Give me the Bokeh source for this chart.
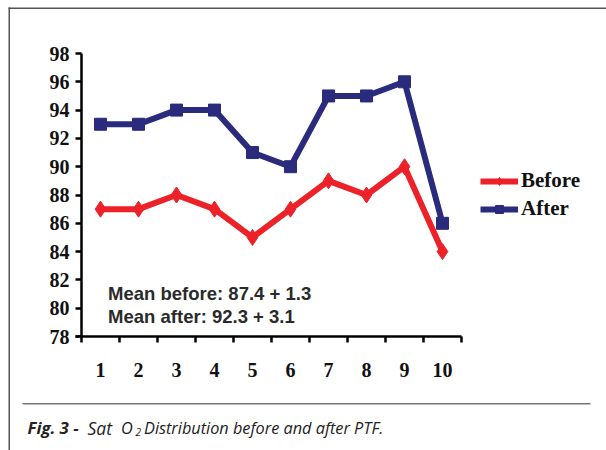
from bokeh.plotting import figure
from bokeh.models import (Range1d, FixedTicker, Legend, LegendItem, Label, BoxAnnotation)
from bokeh.embed import file_html
from bokeh.resources import INLINE

# ---- data ----
samples = [1, 2, 3, 4, 5, 6, 7, 8, 9, 10]
before = [87, 87, 88, 87, 85, 87, 89, 88, 90, 84]
after = [93, 93, 94, 94, 91, 90, 95, 95, 96, 86]
y_ticks = [78, 80, 82, 84, 86, 88, 90, 92, 94, 96, 98]
mean_lines = ["Mean before: 87.4 + 1.3", "Mean after: 92.3 + 3.1"]
caption_parts = ["Fig. 3 -", "Sat", "O", "2", "Distribution before and after PTF."]

RED = "#ED2128"
NAVY = "#2A2B7C"

W, H = 606, 450
# pixel layout of the plotting area inside the canvas
FL, FR, FT, FB = 81, 461, 53, 336
xpx = (FR - FL) / 10.0
ypx = (FB - FT) / 20.0
x_start = 0.5 - FL / xpx
x_end = 10.5 + (W - FR) / xpx
y_start = 78 - (H - FB) / ypx
y_end = 98 + FT / ypx

p = figure(width=W, height=H, output_backend="svg", toolbar_location=None,
           x_range=Range1d(x_start, x_end), y_range=Range1d(y_start, y_end),
           min_border=0)
p.grid.visible = False
p.outline_line_color = None
p.background_fill_color = "white"
p.border_fill_color = "white"

p.xaxis.fixed_location = 78
p.yaxis.fixed_location = 0.5
p.xaxis.bounds = (0.5 - 6 / xpx, 10.5)
p.yaxis.bounds = (78, 98)

for axes in (p.xaxis, p.yaxis):
    axes.axis_line_width = 2.5
    axes.axis_line_color = "black"
    axes.major_label_text_font = "Liberation Serif"
    axes.major_label_text_font_style = "bold"
    axes.major_label_text_font_size = "20px"
    axes.major_label_text_color = "#111111"

p.yaxis.ticker = FixedTicker(ticks=y_ticks)
p.yaxis.major_tick_out = 6
p.yaxis.major_tick_in = 0
p.yaxis.major_tick_line_width = 2.5
p.yaxis.minor_tick_line_color = None
p.yaxis.major_label_standoff = 6

p.xaxis.ticker = FixedTicker(ticks=samples,
                             minor_ticks=[s - 0.5 for s in samples] + [samples[-1] + 0.5])
p.xaxis.major_tick_out = 0
p.xaxis.major_tick_in = 0
p.xaxis.minor_tick_out = 6
p.xaxis.minor_tick_in = 0
p.xaxis.minor_tick_line_width = 2.5
p.xaxis.minor_tick_line_color = "black"
p.xaxis.major_label_standoff = 20

# series
r1 = p.line(samples, before, line_color=RED, line_width=6)
m1 = p.scatter(samples, before, marker="diamond", size=16, fill_color=RED, line_color=RED)
r2 = p.line(samples, after, line_color=NAVY, line_width=6)
m2 = p.scatter(samples, after, marker="square", size=12, fill_color=NAVY, line_color=NAVY)

legend = Legend(items=[LegendItem(label="Before", renderers=[r1, m1]),
                       LegendItem(label="After", renderers=[r2, m2])],
                location=(480, 229), orientation="vertical",
                padding=0, margin=0, spacing=3,
                glyph_width=38, glyph_height=20, label_height=20,
                label_standoff=3, border_line_color=None,
                background_fill_alpha=0,
                label_text_font="Liberation Serif", label_text_font_style="bold",
                label_text_font_size="21px", label_text_color="#111111")
p.add_layout(legend, "center")

# mean annotations
for txt, yv in zip(mean_lines, [81.05, 79.4]):
    p.add_layout(Label(x=1.2, y=yv, text=txt, text_font="Liberation Sans",
                       text_font_style="bold", text_font_size="18.5px",
                       text_color="#2a2a2a", text_baseline="middle"))

def sbox(l, r, b, t, color):
    return BoxAnnotation(left=l, right=r, bottom=b, top=t,
                         left_units="screen", right_units="screen",
                         bottom_units="screen", top_units="screen",
                         fill_color=color, fill_alpha=1, line_color=None)

# page frame lines and caption rule (screen px from bottom-left)
p.add_layout(sbox(8, 9.5, 0, H - 7, "#555555"))
p.add_layout(sbox(8, W, H - 8.5, H - 7, "#555555"))
p.add_layout(sbox(22, 590, H - 404, H - 402.5, "#777777"))

def cap(x, y, text, style, size="16.3px"):
    return Label(x=x, y=H - y, text=text, x_units="screen", y_units="screen",
                 text_font="Open Sans", text_font_style=style, text_font_size=size,
                 text_color="#222222", text_baseline="alphabetic")

p.add_layout(cap(27, 427, caption_parts[0], "bold italic", "16.8px"))
p.add_layout(cap(87, 427, caption_parts[1], "italic", "17.5px"))
p.add_layout(cap(120.5, 427, caption_parts[2], "italic"))
p.add_layout(cap(135, 431, caption_parts[3], "italic", "10px"))
p.add_layout(cap(143.5, 427, caption_parts[4], "italic"))

open("out.html", "w").write(file_html(p, INLINE))
